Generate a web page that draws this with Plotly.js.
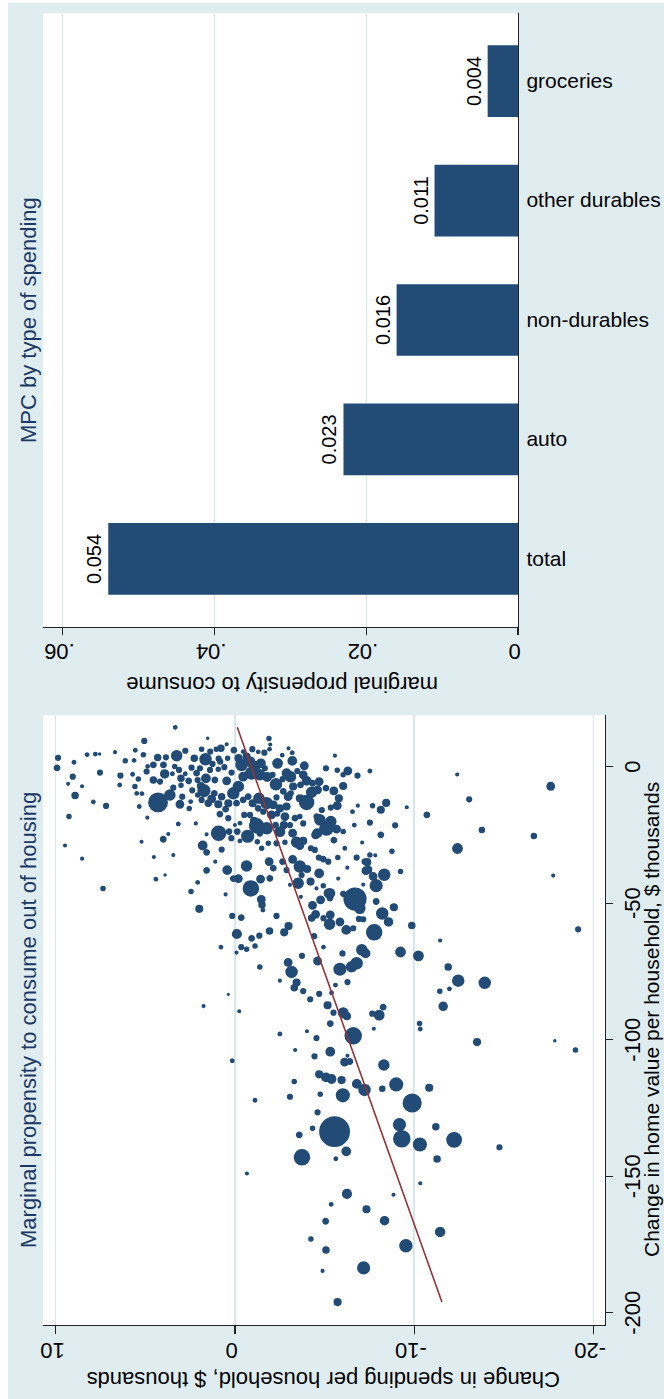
<!DOCTYPE html>
<html><head><meta charset="utf-8">
<script src="https://cdn.plot.ly/plotly-3.0.1.min.js"></script>
<style>
html,body{margin:0;padding:0;background:#fff;overflow:hidden;width:664px;height:1399px;}
#wrap{position:absolute;left:0;top:0;width:1399px;height:664px;transform-origin:0 0;transform:translate(0px,1399px) rotate(-90deg);background:#fff;}
#chart{position:absolute;left:0;top:8px;width:1396px;height:656px;}
</style></head><body><div id="wrap"><div id="chart"></div></div>
<script>
// ---------- DATA ----------
// Scatter: change in home value ($000), change in spending ($000), weight (households)
const homeValue = [
14.4,10.4,9.4,10.3,8.2,6.0,4.3,3.3,3.4,4.0, 5.8,3.1,2.7,6.4,5.5,6.4,6.7,2.9,1.8,1.0,
3.1,6.0,5.5,5.4,6.4,5.1,6.4,8.1,6.7,4.2, 1.2,2.1,5.1,0.3,-0.6,4.0,-1.6,-1.3,-3.0,-3.3,
-1.6,-7.3,2.3,-2.8,-4.5,-1.8,0.1,0.6,-4.9,-5.5, -2.7,0.6,0.0,-1.2,-2.6,-4.3,-6.8,-5.2,-2.6,-0.4,
-2.4,-0.6,-4.3,-4.9,-7.1,-8.8,-1.2,-1.0,-4.9,-9.8, -0.2,-5.2,-2.2,3.1,3.7,0.6,1.8,0.0,1.2,-2.4,
-3.7,-7.3,-9.8,-3.0,-3.8,-0.6,-3.0,-6.5,-2.4,-4.6, -3.7,-1.6,-3.0,-5.2,-6.7,-7.3,-11.0,-9.1,-9.8,-6.1,
-5.5,-8.5,-9.4,-13.1,-11.6,-7.9,-8.9,-11.6,-14.3,-7.1, -15.0,-15.9,-18.3,-19.5,-20.1,-22.6,-24.4,-22.9,-23.8,-16.5,
-14.3,-20.5,-21.4,-9.8,-9.9,-14.6,-18.7,-13.1,-10.4,-7.7, -11.0,-13.8,-15.3,-8.7,-12.8,-10.4,-12.2,-13.4,-11.8,-13.8,
-11.0,-17.4,-15.6,-13.4,-18.9,-13.4,-12.2,-11.0,-13.4,-11.6, -15.3,-13.4,-14.0,-11.3,-15.3,-14.6,-18.3,-17.2,-17.7,-16.5,
-17.7,-19.9,-21.7,-17.7,-21.4,-20.7,-23.8,-26.2,-23.8,-27.2, -25.5,-22.6,-24.4,-27.5,-21.4,-23.8,-21.4,-21.4,-18.9,-18.3,
-20.8,-24.4,-27.7,-27.2,-28.9,-27.7,-28.1,-28.1,-29.9,-29.9, -30.5,-33.3,-33.9,-34.8,-25.0,-26.9,-29.9,-27.8,-33.3,-33.3,
-34.8,-37.8,-37.0,-24.4,-28.9,-31.4,-30.4,-34.8,-38.0,-37.9, -36.4,-41.0,-41.0,-44.6,-41.2,-40.9,-34.8,-37.2,-34.8,-37.9,
-34.0,-36.6,-37.5,-39.7,-39.1,-42.1,-42.7,-43.3,-43.6,-44.6, -46.4,-48.5,-41.0,-27.5,-33.1,-26.6,-24.7,-32.4,-21.0,-20.8,
-24.8,-41.2,-39.7,-45.7,-42.4,
3.2,-0.5,1.6,4.4,4.6,4.6,5.3,-3.7,-6.3,-7.2,-10.6,-2.2,-12.9,-14.4,-18.3,-3.3,-6.7,2.1,
-28.9,-33.7,-44.6,-52.1,-87.7,-83.4,-89.6,-46.8,-54.7,-55.3, -48.6,-50.6,-52.5,-66.1,-61.3,-68.1,-66.1,-66.9,-62.9,-65.7,
-61.9,-73.4,-60.2,-54.7,-60.7,-58.4,-78.4,-71.7,-75.2,-79.1, -81.0,-82.2,-85.2,-83.2,-69.3,-97.9,-103.8,-96.9,-99.4,-87.4,
-90.1,-94.1,-90.1,-91.4,-98.6,-82.8,-71.2,-74.2,-78.9,-73.3, -72.0,-67.1,-68.4,-80.0,-62.1,-55.4,-54.1,-55.5,-54.3,-57.7,
-56.9,-59.8,-59.2,-55.8,-55.9,-66.1,-47.7,-50.8,-48.8,-46.4, -48.2,-51.9,-46.6,
-2.9,-7.2,-12.0,-13.3,-14.3,-15.8,-14.9,-17.7,-21.5,-23.2, -25.4,-25.0,-31.0,-30.0,-32.4,-32.5,-35.0,-38.1,-40.2,-39.6,
-38.4,-39.9,-43.2,-43.6,-49.4,-51.5,-53.8,-56.9,-58.2,-59.6, -60.7,-63.7,-68.4,-67.9,-69.3,
-73.4,-78.4,-79.2,-82.3,-81.4,-87.8,-91.0,-90.5,-88.1,-96.0, -94.1,-96.1,-100.9,-100.4,-103.8,
-107.7,-106.1,-104.4,-105.9,-108.2,-108.0,-109.3,-112.7,-113.8,-114.4, -114.8,-116.2,-118.4,-118.0,-116.4,-117.6,-115.3,-120.9,-120.0,-120.4,
-122.2,-123.2,-126.6,-133.7,-132.4,-134.9,-131.1,-136.3,-138.4,-131.9, -136.7,-139.4,-143.1,-140.9,-143.6,-143.7,-149.0,-152.6,-156.5,-156.8,
-160.3,-162.1,-166.5,-166.3,-170.4,-173.0,-175.5,-177.0,-184.7,-183.6, -196.1
];
const spendingChange = [
3.33,1.52,5.06,-1.90,0.46,5.56,5.11,4.31,3.85,3.25, 2.77,2.27,1.64,1.86,1.38,1.04,0.78,0.91,0.82,1.25,
0.41,0.06,-0.46,-1.30,-0.97,-1.64,-1.93,-1.97,-2.99,-2.64, -2.38,-3.20,-3.20,-3.87,-5.08,-5.58,-6.30,-5.71,-6.04,-6.84,
-7.53,5.58,5.63,5.71,5.39,4.93,4.87,4.55,4.55,4.18, 3.92,3.99,3.36,3.12,3.49,3.01,3.01,2.58,2.77,2.42,
2.14,1.95,1.62,2.08,1.90,1.73,1.39,0.93,1.12,1.15, 0.59,0.46,0.19,-0.20,-0.65,-0.37,-0.84,-1.10,-1.45,-0.93,
-0.46,-0.19,0.09,-1.39,-1.80,-1.67,-2.10,-2.29,-2.88,-2.66, -3.10,-3.48,-3.81,-4.00,-3.66,-3.25,-2.97,-2.70,-3.12,-4.33,
-4.70,-4.61,-4.28,-4.00,-3.62,-5.08,-5.52,-5.80,-5.71,-6.04, -5.35,-4.85,-4.57,-4.74,-5.35,-5.11,-4.59,-5.67,-6.04,-6.56,
-6.86,-7.53,-6.66,5.48,5.19,5.34,4.89,4.29,3.63,3.44, 2.94,3.07,2.55,2.38,2.47,2.08,1.86,1.49,1.30,0.93,
0.74,0.84,0.52,0.37,0.37,-0.09,-0.46,-0.74,-0.99,-1.34, -1.30,-1.77,-2.14,-2.32,-2.51,-2.88,-2.79,-2.36,-2.04,-1.58,
-0.84,-1.06,-1.21,-0.52,0.00,-0.28,0.33,0.20,-0.13,-0.28, -0.71,-1.77,-1.39,-1.25,-2.27,-2.51,-2.73,-3.07,-3.35,-3.62,
-3.81,-3.22,-3.44,-3.81,-3.62,-2.79,-2.32,-1.86,-1.49,-4.24, -4.46,-4.68,-4.93,-5.21,-4.50,-5.52,-6.13,-7.10,-5.74,-6.79,
-7.25,-7.44,-6.27,0.91,1.80,1.58,0.74,1.10,1.58,0.43, -0.65,-0.19,0.09,-0.89,-1.43,-1.95,-1.91,-2.14,-2.66,-2.88,
-3.22,-3.62,-4.03,-3.72,-4.70,-4.22,-3.53,-3.07,-4.93,-4.55, -5.30,-6.70,-5.76,5.21,4.52,4.00,3.72,3.44,3.16,2.18,
1.58,4.41,3.90,2.45,2.08,
9.87,9.93,8.98,8.25,7.79,7.55,6.69,9.05,9.31,8.53,8.92,7.53,7.90,7.19,9.26,6.39,6.43,6.12,
9.48,8.53,7.36,1.99,1.75,0.37,-0.24,0.52,0.15,-0.35, -1.47,-1.51,-1.56,0.78,-0.11,-0.09,-0.35,-0.65,-0.93,-1.12,
-1.36,-1.39,-1.93,-2.32,-2.75,-2.99,-2.51,-2.97,-3.16,-3.44, -3.31,-3.81,-4.20,-4.70,-3.74,-2.51,-3.36,-4.02,-4.55,-5.17,
-5.50,-5.32,-6.04,-6.25,-6.60,-5.39,-4.61,-5.86,-6.28,-6.51, -6.79,-7.08,-6.00,-5.61,-4.42,-4.28,-4.50,-4.94,-5.32,-5.28,
-5.86,-6.21,-6.60,-6.92,-7.16,-4.94,-3.68,-4.33,-4.78,-5.22, -5.30,-6.97,-6.04,
-12.40,-17.62,-13.07,-8.44,-7.68,-8.14,-9.59,-10.71,-8.94,-13.78, -16.68,-8.14,-8.76,-12.42,-7.53,-7.83,-7.38,-7.31,-7.71,-8.33,
-9.24,-17.76,-7.16,-7.88,-7.88,-8.87,-8.22,-8.57,-9.87,-19.15, -7.77,-11.45,-7.29,-9.24,-10.24,
-11.90,-12.46,-13.94,-11.43,-11.97,-11.62,-8.05,-7.66,-8.27,-7.75, -10.30,-10.34,-13.51,-17.85,-19.00,
0.15,-4.44,-5.32,-6.28,-6.12,-6.41,-8.31,-4.70,-5.08,-5.39, -5.95,-6.80,-7.23,-8.22,-9.00,-10.84,-3.31,-3.07,-4.76,-6.02,
-1.12,-9.89,-4.61,-5.56,-4.33,-3.59,-9.18,-9.31,-10.32,-11.21, -12.23,-14.76,-3.74,-6.21,-5.63,-11.28,-0.67,-10.34,-6.25,-8.85,
-5.37,-7.34,-5.06,-8.35,-11.45,-4.24,-9.54,-5.08,-4.89,-7.18, -5.73
];
const households = [
11,4,22,16,7,11,16,36,22,100, 22,36,121,16,22,16,36,22,22,22,
16,28,11,11,22,22,11,7,7,11, 87,69,11,54,22,7,54,16,16,22,
11,16,11,11,16,22,11,28,36,22, 64,28,16,22,11,36,16,28,11,22,
28,22,69,22,44,136,22,16,28,28, 22,54,22,44,44,121,87,100,69,136,
69,100,121,100,69,22,22,121,69,22, 100,22,54,69,28,44,54,28,22,28,
54,54,100,196,44,28,54,44,54,44, 22,22,28,100,100,178,75,54,16,11,
7,22,11,11,11,11,7,336,100,22, 22,54,16,22,11,16,22,36,54,44,
36,28,28,44,22,28,28,28,44,100, 28,121,54,22,44,44,54,22,54,22,
22,44,196,22,7,11,28,22,28,11, 136,121,28,16,28,87,44,22,28,16,
22,54,100,44,54,16,22,16,16,22, 22,22,28,22,54,28,11,7,16,22,
28,44,7,196,69,28,22,7,28,69, 100,54,28,225,54,28,54,28,28,22,
54,121,44,22,69,44,100,7,16,7, 87,470,7,7,7,28,7,7,11,7,
7,11,4,16,11,
22,28,11,11,11,4,7,22,7,7,36,22,11,22,16,22,11,16,
7,7,16,44,7,3,7,7,22,28, 54,36,11,11,75,7,22,16,28,16,
22,16,36,22,44,44,7,54,121,44, 36,22,22,22,22,11,7,7,22,44,
22,28,87,44,256,11,54,136,22,100, 121,100,22,11,22,36,54,22,54,100,
54,69,22,22,22,11,7,54,54,69, 28,100,22,
7,54,22,44,16,44,7,28,22,25, 25,28,16,87,16,7,44,54,54,121,
16,7,7,136,28,44,121,64,36,22, 225,7,69,87,87,
36,121,121,16,11,64,87,22,28,7, 16,11,44,4,16,
11,22,69,7,54,28,100,44,69,69, 44,69,121,25,160,44,16,22,16,160,
11,312,22,860,16,28,136,256,160,36, 205,22,225,69,11,36,7,7,75,7,
11,44,28,64,81,16,144,36,7,136, 44
];
// Fitted line (slope = MPC 0.054)
const fitHomeValue = [-196.1, 14.4];
const fitSpending  = [-11.55, -0.13];
const homeTicks = [-200,-150,-100,-50,0];
const homeTickText = ['-200','-150','-100','-50','0'];
const spendTicks = [-20,-10,0,10];
const spendTickText = ['-20','-10','0','10'];

// Bar chart: MPC by type of spending
const categories = ['total','auto','non-durables','other durables','groceries'];
const mpc = [0.054, 0.023, 0.016, 0.011, 0.004];
const mpcTicks = [0, 0.02, 0.04, 0.06];
const mpcTickText = ['0','.02','.04','.06'];

// ---------- STYLE ----------
const FONT = '"Liberation Sans", Arial, Helvetica, sans-serif';
const NAVY = '#224b75';
const MAROON = '#90353b';
const BG = '#dfedf0';
const GRID = '#d9e7ec';
const AXC = '#222222';
const TITLEC = '#1c3865';
const W = 1396, H = 656;
const fx = X => X / W;              // px along rotated frame width -> paper
const fy = Y => 1 - (Y - 8) / H;     // px along rotated frame height -> paper

const traces = [
  {type:'scatter', mode:'markers', x:homeValue, y:spendingChange, xaxis:'x', yaxis:'y',
   marker:{size:households, sizemode:'area', sizeref:2, sizemin:0.8, color:NAVY, opacity:1,
           line:{width:1.5, color:NAVY}},
   hoverinfo:'skip', cliponaxis:false},
  {type:'scatter', mode:'lines', x:fitHomeValue, y:fitSpending, xaxis:'x', yaxis:'y',
   line:{color:MAROON, width:1.6}, hoverinfo:'skip'},
  {type:'bar', x:categories, y:mpc, xaxis:'x2', yaxis:'y2', width:0.6,
   marker:{color:NAVY, line:{width:0}},
   text:mpc.map(v => v.toFixed(3)), textposition:'outside', cliponaxis:false,
   textfont:{size:20, color:'#000', family:FONT}, hoverinfo:'skip'}
];

const axisBase = {showline:true, linecolor:AXC, linewidth:1.2, zeroline:false, tickcolor:AXC, tickwidth:1.2,
  tickfont:{size:22, color:'#000', family:FONT}, fixedrange:true};

const layout = {
  width:W, height:H, margin:{l:0,r:0,t:0,b:0}, paper_bgcolor:BG, plot_bgcolor:'#ffffff',
  showlegend:false, font:{family:FONT, size:22, color:'#000'}, bargap:0.4,
  xaxis:Object.assign({}, axisBase, {domain:[fx(74), fx(684)], range:[-204.5, 18.9], anchor:'y',
    tickmode:'array', tickvals:homeTicks, ticktext:homeTickText, ticks:'outside', ticklen:7, showgrid:false}),
  yaxis:Object.assign({}, axisBase, {domain:[fy(605), fy(43)], range:[-20.65, 10.71], anchor:'x',
    tickmode:'array', tickvals:spendTicks, ticktext:spendTickText, tickangle:-90, ticks:'outside', ticklen:8,
    showgrid:true, gridcolor:GRID, gridwidth:1.4}),
  xaxis2:Object.assign({}, axisBase, {domain:[fx(772), fx(1386)], range:[-0.57, 4.57], anchor:'y2',
    type:'category', categoryorder:'array', categoryarray:categories, tickangle:90, ticks:'', showgrid:false,
    ticklabelstandoff:3, tickfont:{size:21, color:'#000', family:FONT}}),
  yaxis2:Object.assign({}, axisBase, {domain:[fy(518), fy(43)], range:[0, 0.0626], anchor:'x2',
    tickmode:'array', tickvals:mpcTicks, ticktext:mpcTickText, tickangle:-90, ticks:'outside', ticklen:7,
    showgrid:true, gridcolor:GRID, gridwidth:1.4}),
  annotations:[
    {text:'Marginal propensity to consume out of housing', xref:'paper', yref:'paper', x:fx(379), y:fy(29),
     showarrow:false, xanchor:'center', yanchor:'middle', font:{size:22, color:TITLEC, family:FONT}},
    {text:'MPC by type of spending', xref:'paper', yref:'paper', x:fx(1079), y:fy(29),
     showarrow:false, xanchor:'center', yanchor:'middle', font:{size:22, color:TITLEC, family:FONT}},
    {text:'Change in spending per household, $ thousands', xref:'paper', yref:'paper', x:fx(19), y:fy(324),
     textangle:-90, showarrow:false, xanchor:'center', yanchor:'middle', font:{size:22, color:'#000', family:FONT}},
    {text:'Change in home value per household, $ thousands', xref:'paper', yref:'paper', x:fx(379), y:fy(651),
     showarrow:false, xanchor:'center', yanchor:'middle', font:{size:21, color:'#000', family:FONT}},
    {text:'marginal propensity to consume', xref:'paper', yref:'paper', x:fx(714), y:fy(282),
     textangle:-90, showarrow:false, xanchor:'center', yanchor:'middle', font:{size:22, color:'#000', family:FONT}}
  ]
};

Plotly.newPlot('chart', traces, layout, {staticPlot:true, displayModeBar:false});
</script></body></html>
